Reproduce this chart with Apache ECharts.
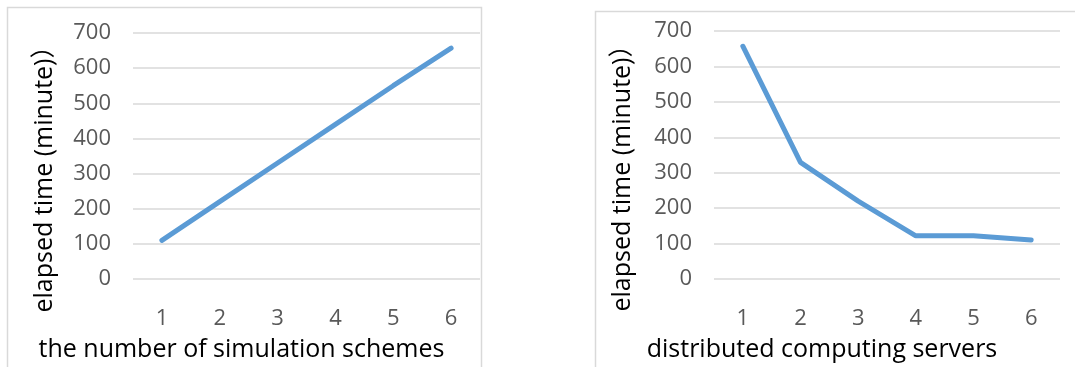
<!DOCTYPE html>
<html>
<head>
<meta charset="utf-8">
<script src="https://cdn.jsdelivr.net/npm/echarts@6/dist/echarts.min.js"></script>
<style>
  html, body { margin: 0; padding: 0; background: #fff; }
  #chart { width: 1075px; height: 367px; }
</style>
</head>
<body>
<div id="chart"></div>
<script>
const xCats = ['1', '2', '3', '4', '5', '6']
const schemesTime = [110, 220, 330, 440, 550, 657]
const serversTime = [657, 329, 220, 122, 122, 110]
const yTitle = 'elapsed time (minute)）'
const leftXTitle = 'the number of simulation schemes'
const rightXTitle = 'distributed computing servers'

const FONT = '"Open Sans", "Noto Sans CJK SC", sans-serif'
const LINE = '#5b9bd5'
const GRID_LINE = '#d9d9d9'
const LABEL = '#595959'

const chart = echarts.init(document.getElementById('chart'), null, { renderer: 'canvas' })

// titles sit centred on the whole chart box, not on the plot, hence the paddings
const xAxisFor = (gridIndex, name) => ({
  type: 'category', gridIndex, data: xCats, boundaryGap: true,
  name, nameLocation: 'middle', nameGap: 58,
  nameTextStyle: { color: '#000', fontSize: 25, fontFamily: FONT, padding: [0, 130, 0, 0] },
  axisLine: { show: false }, axisTick: { show: false },
  axisLabel: { color: LABEL, fontSize: 22, fontFamily: FONT, margin: 29 },
})
const yAxisFor = (gridIndex, gap) => ({
  type: 'value', gridIndex, min: 0, max: 700, interval: 100,
  name: yTitle, nameLocation: 'middle', nameGap: gap,
  nameTextStyle: { color: '#000', fontSize: 25, fontFamily: FONT, padding: [0, 34, 0, 0] },
  axisLine: { show: false }, axisTick: { show: false },
  axisLabel: { color: LABEL, fontSize: 22, fontFamily: FONT, margin: 22 },
  splitLine: { lineStyle: { color: GRID_LINE, width: 1.5 } },
})

chart.setOption({
  animation: false,
  graphic: [
    { type: 'rect', shape: { x: 7.5, y: 7.5, width: 474, height: 370 }, style: { fill: 'none', stroke: GRID_LINE, lineWidth: 1.5 } },
    { type: 'rect', shape: { x: 595.5, y: 11.5, width: 490, height: 370 }, style: { fill: 'none', stroke: GRID_LINE, lineWidth: 1.5 } },
  ],
  grid: [
    { left: 133, top: 33, width: 347, height: 253 },
    { left: 714, top: 31, width: 346, height: 256 },
  ],
  xAxis: [xAxisFor(0, leftXTitle), xAxisFor(1, rightXTitle)],
  yAxis: [yAxisFor(0, 76), yAxisFor(1, 79)],
  series: [
    { type: 'line', xAxisIndex: 0, yAxisIndex: 0, data: schemesTime, showSymbol: false,
      lineStyle: { color: LINE, width: 5, cap: 'round' } },
    { type: 'line', xAxisIndex: 1, yAxisIndex: 1, data: serversTime, showSymbol: false,
      lineStyle: { color: LINE, width: 5, cap: 'round' } },
  ],
})
</script>
</body>
</html>
